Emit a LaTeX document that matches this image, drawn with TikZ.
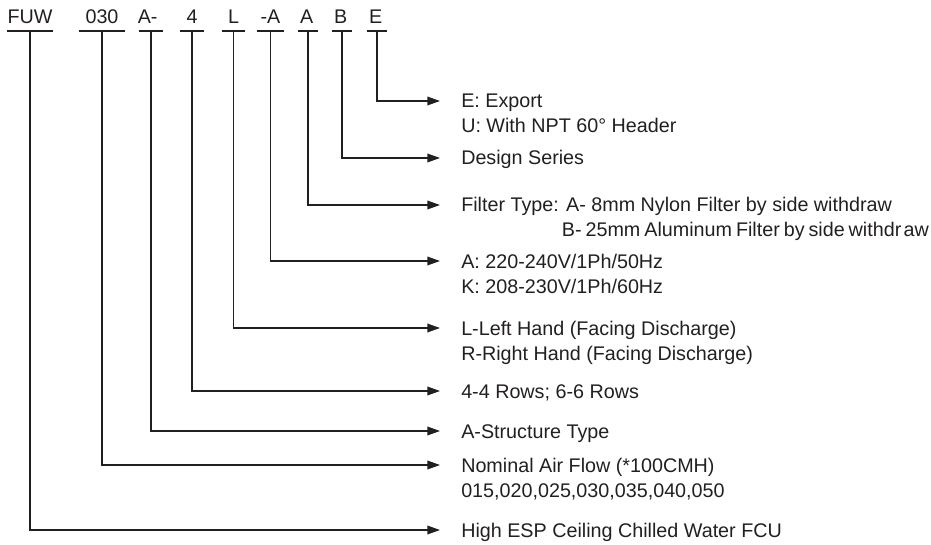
\documentclass[tikz,border=0pt]{standalone}
\usepackage{fontspec}
\setmainfont{Liberation Sans}
\usetikzlibrary{arrows.meta}
\definecolor{ink}{HTML}{231F20}
\begin{document}
\begin{tikzpicture}[x=0.75pt,y=-0.75pt,
  every node/.style={text=ink, font=\fontsize{14.8}{18.75}\selectfont},
  code/.style={anchor=south, inner xsep=0pt, inner ysep=5.25pt, text depth=0pt},
  uline/.style={draw=ink, line width=1pt},
  conn/.style={draw=ink, line width=1pt, -{Triangle[length=9.5pt,width=6.5pt]}},
  desc/.style={anchor=base west, inner sep=0pt, align=left}
]
\useasboundingbox (0,0) rectangle (931,545);

% code letters
\node[code, minimum width=33pt]    (cF) at (30,31)    {FUW};
\node[code, minimum width=34.5pt]  (cN) at (102,31)   {030};
\node[code, minimum width=18pt]    (cS) at (151,31)   {\hspace*{-5pt}A-};
\node[code, minimum width=18pt]    (cR) at (192,31)   {4};
\node[code, minimum width=17.25pt] (cL) at (233.5,31) {L};
\node[code, minimum width=20.25pt] (cV) at (270.5,31) {-A};
\node[code, minimum width=15pt]    (cA) at (308,31)   {\hspace*{-2pt}A};
\node[code, minimum width=15pt]    (cB) at (342,31)   {\hspace*{-2pt}B};
\node[code, minimum width=15pt]    (cE) at (377,31)   {\hspace*{-2pt}E};

\foreach \n in {cF,cN,cS,cR,cL,cV,cA,cB,cE}
  \draw[uline] (\n.south west) -- (\n.south east);

% arrow tips
\coordinate (tE) at (440,101);
\coordinate (tB) at (440,158);
\coordinate (tA) at (440,205);
\coordinate (tV) at (440,261);
\coordinate (tL) at (440,328);
\coordinate (tR) at (440,391);
\coordinate (tS) at (440,431);
\coordinate (tN) at (440,465);
\coordinate (tF) at (440,530);

% connectors
\draw[conn] (cE.south) |- (tE);
\draw[conn] (cB.south) |- (tB);
\draw[conn] (cA.south) |- (tA);
\draw[conn] (cV.south) |- (tV);
\draw[conn] (cL.south) |- (tL);
\draw[conn] (cR.south) |- (tR);
\draw[conn] (cS.south) |- (tS);
\draw[conn] (cN.south) |- (tN);
\draw[conn] (cF.south) |- (tF);

% descriptions
\node[desc] (dE) at (461,108) {\begin{tabular}[t]{@{}l@{}}E: Export\\U: With NPT 60° Header\end{tabular}};
\node[desc] (dB) at (461,165) {Design Series};
\node[desc] (dA) at (461,212) {\begin{tabular}[t]{@{}l@{}}Filter Type: A- 8mm Nylon Filter by side withdraw\\\hspace*{75.5pt}{\spaceskip=0.2em B- 25mm Aluminum Filter by side withdr\kern0.12em aw}\end{tabular}};
\node[desc] (dV) at (461,268) {\begin{tabular}[t]{@{}l@{}}A: 220-240V/1Ph/50Hz\\K: 208-230V/1Ph/60Hz\end{tabular}};
\node[desc] (dL) at (461,335) {\begin{tabular}[t]{@{}l@{}}L-Left Hand (Facing Discharge)\\R-Right Hand (Facing Discharge)\end{tabular}};
\node[desc] (dR) at (461,398) {4-4 Rows; 6-6 Rows};
\node[desc] (dS) at (461,438) {A-Structure Type};
\node[desc] (dN) at (461,472) {\begin{tabular}[t]{@{}l@{}}Nominal Air Flow (*100CMH)\\015,020,025,030,035,040,050\end{tabular}};
\node[desc] (dF) at (461,537) {High ESP Ceiling Chilled Water FCU};
\end{tikzpicture}
\end{document}
